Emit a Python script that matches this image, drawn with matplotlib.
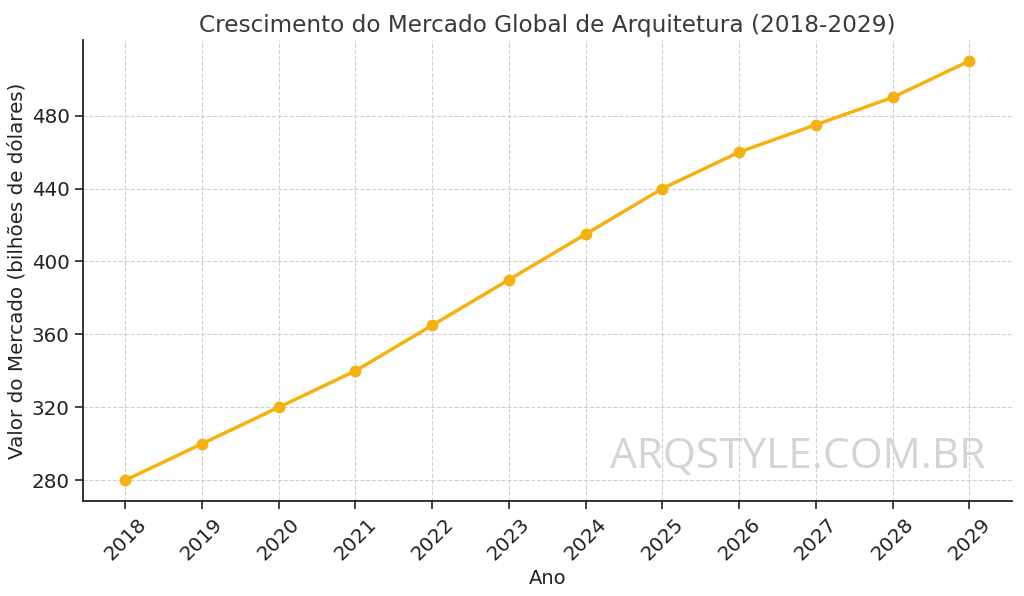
import matplotlib
matplotlib.use("Agg")
import matplotlib.pyplot as plt

# Market values per year (billions of dollars)
years = [2018, 2019, 2020, 2021, 2022, 2023, 2024, 2025, 2026, 2027, 2028, 2029]
market_values = [280, 300, 320, 340, 365, 390, 415, 440, 460, 475, 490, 510]
y_ticks = [280, 320, 360, 400, 440, 480]

fig, ax = plt.subplots(figsize=(10.24, 5.96), dpi=100)
fig.subplots_adjust(left=0.081, right=0.988, top=0.933, bottom=0.159)

ax.plot(years, market_values, color="#F5B10F", linewidth=2.5, marker="o", markersize=7.5)

ax.set_title("Crescimento do Mercado Global de Arquitetura (2018-2029)", fontsize=16.7, color="#3a3a3a")
ax.set_xlabel("Ano", fontsize=14, color="#222222")
ax.set_ylabel("Valor do Mercado (bilhões de dólares)", fontsize=14.3, color="#222222")

ax.set_xticks(years)
ax.set_xticklabels([str(y) for y in years], rotation=45, fontsize=14.3, color="#222222")
ax.set_yticks(y_ticks)
ax.tick_params(axis="y", labelsize=14.3, labelcolor="#222222")
ax.tick_params(direction="out", length=6, width=1.2, color="#222222")

ax.grid(True, linestyle="--", color="#d0d0d0", linewidth=0.8)
ax.spines["top"].set_visible(False)
ax.spines["right"].set_visible(False)
ax.spines["left"].set_linewidth(1.3)
ax.spines["bottom"].set_linewidth(1.3)
ax.spines["left"].set_color("#222222")
ax.spines["bottom"].set_color("#222222")

# Watermark
fig.text(0.779, 0.234, "ARQSTYLE.COM.BR", fontsize=30.5, color="#d4d4d4",
         family=["Open Sans", "DejaVu Sans"], ha="center", va="center")

fig.savefig("out.png", dpi=100)
